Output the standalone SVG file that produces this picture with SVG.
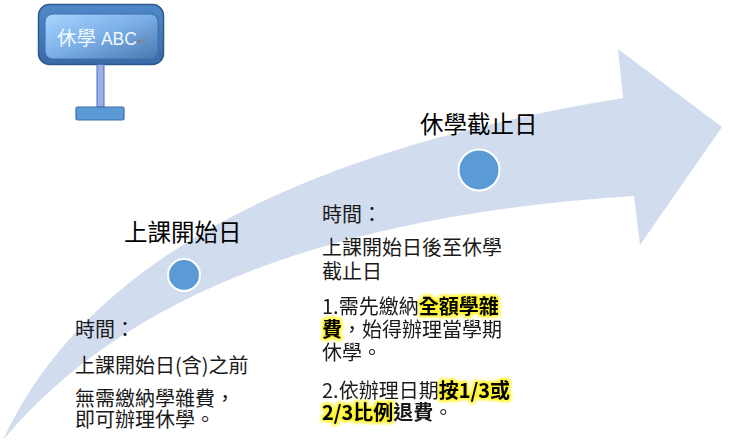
<svg xmlns="http://www.w3.org/2000/svg" width="733" height="445" viewBox="0 0 733 445">
<defs>
<style>
.lbl{font-family:"Noto Sans CJK TC","Noto Sans CJK SC",sans-serif;font-size:23.5px;fill:#000}
.body{font-family:"Noto Sans CJK TC","Noto Sans CJK SC",sans-serif;font-size:20px;fill:#1a1a1a}
.b{font-weight:bold}
.hl{font-weight:bold;fill:#000}
.dot{fill:#5B9BD5;stroke:#fff;stroke-width:2}
</style>
<linearGradient id="outerG" x1="0" y1="0" x2="0" y2="1">
<stop offset="0" stop-color="#4F88C9"/>
<stop offset="1" stop-color="#3A6BA8"/>
</linearGradient>
<linearGradient id="innerG" x1="0" y1="0" x2="1" y2="1">
<stop offset="0" stop-color="#A8D6FF"/>
<stop offset="0.5" stop-color="#7AAEE6"/>
<stop offset="1" stop-color="#4A78AE"/>
</linearGradient>
<filter id="glow" x="-10%" y="-10%" width="120%" height="120%" color-interpolation-filters="sRGB">
<feColorMatrix in="SourceGraphic" type="matrix" values="0 0 0 0 0  0 0 0 0 0  0 0 0 0 0  -10 0 0 1 0" result="sel"/>
<feMorphology in="sel" operator="dilate" radius="1.8" result="d"/>
<feGaussianBlur in="d" stdDeviation="1.7" result="bl"/>
<feFlood flood-color="#FFF200" flood-opacity="0.85"/>
<feComposite in2="bl" operator="in" result="g"/>
<feMerge><feMergeNode in="g"/><feMergeNode in="SourceGraphic"/></feMerge>
</filter>
</defs>
<rect width="733" height="445" fill="#fff"/>

<g id="arrow">
<path d="M 3 440 Q 123 179 623 98 L 618 49 L 722 127 L 640 245 L 634 196 Q 183 224 3 440 Z" fill="#D1DDEE"/>
</g>

<g id="sign">
<rect x="38.5" y="4.5" width="125" height="60" rx="11" fill="url(#outerG)" stroke="#2E5A8C" stroke-width="1.5"/>
<rect x="45" y="14" width="113" height="45" rx="8" fill="url(#innerG)" stroke="#3D6FAA" stroke-width="1"/>
<text x="57" y="45" font-family="'Noto Sans CJK TC',sans-serif" font-size="19.5" fill="#F2F8FF">休學<tspan font-family="'Liberation Sans',sans-serif" font-size="17.5"> ABC</tspan><tspan font-family="'DejaVu Sans',sans-serif" font-size="12" fill="#8C7B70">↵</tspan></text>
</g>

<g id="stand">
<rect x="97" y="64.5" width="7" height="42.5" fill="#9DAEE0" stroke="#4A6FC7" stroke-width="1"/>
<rect x="76" y="107" width="48" height="13" rx="1.5" fill="#5B9BD5" stroke="#3F6FA8" stroke-width="1.2"/>
</g>

<g id="node-start">
<text class="lbl" x="124" y="241">上課開始日</text>
<circle class="dot" cx="184" cy="275" r="16"/>
<text class="body" x="75" y="337">時間：</text>
<text class="body" x="75" y="373">上課開始日(含)之前</text>
<text class="body" x="75" y="406">無需繳納學雜費，<tspan x="75" dy="21">即可辦理休學。</tspan></text>
</g>

<g id="node-deadline">
<text class="lbl" x="420" y="133">休學截止日</text>
<circle class="dot" cx="479" cy="170" r="20.5"/>
<text class="body" x="322" y="222">時間：</text>
<text class="body" x="322" y="255">上課開始日後至休學<tspan x="322" dy="24">截止日</tspan></text>
<text class="body" x="322" y="314" filter="url(#glow)">1.需先繳納<tspan class="hl">全額學雜</tspan><tspan x="322" dy="23"><tspan class="hl">費</tspan>，始得辦理當學期</tspan><tspan x="322" dy="23">休學。</tspan></text>
<text class="body" x="322" y="398" filter="url(#glow)">2.依辦理日期<tspan class="hl">按1/3或</tspan><tspan x="322" dy="22"><tspan class="hl">2/3比例</tspan><tspan class="b">退費</tspan>。</tspan></text>
</g>
</svg>
